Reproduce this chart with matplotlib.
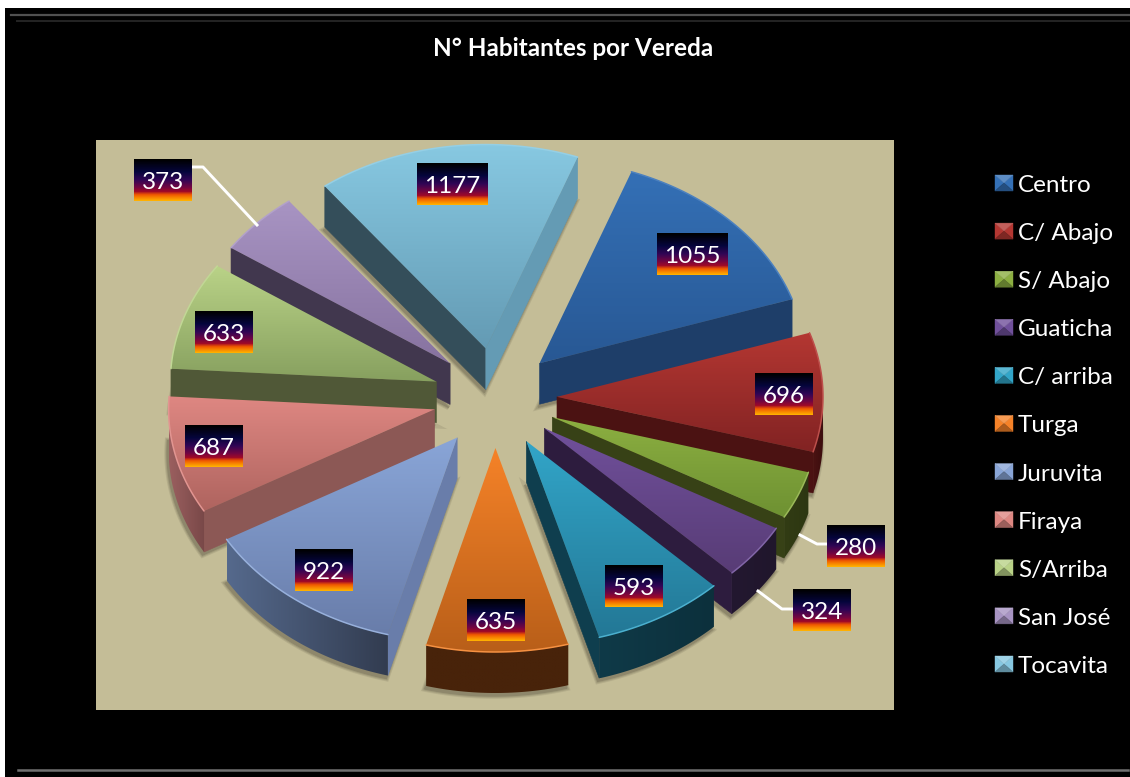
import numpy as np
import matplotlib
matplotlib.use('Agg')
import matplotlib.pyplot as plt
from matplotlib.colors import LinearSegmentedColormap
from matplotlib.patches import Polygon, Rectangle

plt.rcParams['font.family'] = ['Lato', 'DejaVu Sans']

# data
veredas = ['Centro', 'C/ Abajo', 'S/ Abajo', 'Guaticha', 'C/ arriba', 'Turga',
           'Juruvita', 'Firaya', 'S/Arriba', 'San José', 'Tocavita']
habitantes = [1055, 696, 280, 324, 593, 635, 922, 687, 633, 373, 1177]
titulo = 'N° Habitantes por Vereda'

# colours, one per slice
color_top = [(52, 112, 182), (180, 55, 50), (140, 175, 65), (112, 80, 155), (50, 165, 200), (245, 130, 40),
             (137, 165, 215), (222, 135, 130), (185, 210, 135), (168, 148, 195), (135, 200, 225)]
color_low = [(40, 88, 148), (130, 35, 35), (110, 145, 50), (88, 60, 118), (35, 120, 150), (185, 95, 25),
             (105, 125, 170), (175, 100, 95), (135, 160, 95), (135, 115, 160), (100, 155, 180)]
color_wall = [(30, 62, 105), (75, 18, 18), (55, 65, 22), (45, 28, 62), (15, 62, 78), (72, 35, 10),
              (85, 105, 140), (140, 88, 85), (80, 88, 55), (65, 55, 78), (52, 78, 90)]
outer_left = [(30, 62, 105), (75, 18, 18), (50, 60, 20), (35, 24, 48), (15, 58, 72), (72, 35, 10),
              (85, 105, 140), (155, 95, 95), (80, 88, 55), (65, 55, 78), (52, 78, 90)]
outer_right = [(30, 62, 105), (60, 14, 14), (45, 55, 18), (32, 22, 44), (12, 48, 60), (72, 35, 10),
               (50, 60, 80), (120, 72, 72), (80, 88, 55), (65, 55, 78), (52, 78, 90)]
color_fondo = (196, 189, 151)

# layout in pixels
cx, cy = 495, 398
rx, ry = 266, 204
ex, ey = 62, 50
depth = 41
start_angle = 20.2
label_xy = [(692, 254), (784, 394), (856, 546), (822, 610), (634, 586), (496, 620),
            (324, 570), (214, 446), (224, 332), (163, 180), (452, 184)]
leaders = {9: [(192, 167), (203, 167), (257, 225)],
           2: [(800, 535), (817, 544), (827, 544)],
           3: [(758, 591), (782, 609), (793, 609)]}


def rgb(c):
    return tuple(v / 255 for v in c)


def mix(a, b, t):
    return tuple(a[i] + (b[i] - a[i]) * t for i in range(3))


def fill_gradient(ax, pts, c0, c1, z, horizontal=False):
    pts = np.array(pts)
    n = 64
    ramp = LinearSegmentedColormap.from_list('r', [rgb(c0), rgb(c1)])(np.linspace(0, 1, n))
    if horizontal:
        img = ramp[np.newaxis, :, :]
    else:
        img = ramp[:, np.newaxis, :]
    im = ax.imshow(img, extent=(pts[:, 0].min(), pts[:, 0].max(), pts[:, 1].max(), pts[:, 1].min()),
                   aspect='auto', zorder=z, interpolation='bilinear')
    im.set_clip_path(Polygon(pts, transform=ax.transData))


fig = plt.figure(figsize=(11.3, 7.77), dpi=100, facecolor='white')
ax = fig.add_axes([0, 0, 1, 1])
ax.axis('off')

# black chart area and its bevel
ax.add_patch(Rectangle((5, 8), 1125, 769, fc='black', ec='none', zorder=0))
ax.plot([11, 1130], [14.5, 14.5], color=rgb((80, 80, 80)), lw=1.6, zorder=1)
ax.plot([17, 1130], [21, 21], color=rgb((36, 36, 36)), lw=1.4, zorder=1)
ax.plot([18, 1128], [770, 770], color=rgb((112, 112, 112)), lw=1.8, zorder=1)
ax.add_patch(Rectangle((96, 140), 798, 570, fc=rgb(color_fondo), ec='none', zorder=1))

ax.text(573.5, 48, titulo, color='white', fontsize=17.5, fontweight='bold', ha='center', va='center', zorder=50)

# slice angles
valores = np.array(habitantes, dtype=float)
sweep = valores / valores.sum() * 360
a_start = start_angle + np.concatenate(([0], np.cumsum(sweep)[:-1]))
a_end = a_start + sweep
a_mid = (a_start + a_end) / 2

# back slices first
order = np.argsort(-np.cos(np.radians(a_mid)))

# soft shadows under everything, only below the walls
for i in range(len(veredas)):
    tip = (cx + ex * np.sin(np.radians(a_mid[i])), cy - ey * np.cos(np.radians(a_mid[i])))
    th = np.radians(np.linspace(a_start[i], a_end[i], 60))
    rim = np.column_stack((tip[0] + rx * np.sin(th), tip[1] - ry * np.cos(th)))
    low = np.vstack(([tip], rim)) + [0, depth]
    for lw, t in [(4, 0.12), (2.5, 0.25), (1, 0.4)]:
        c = rgb(mix(color_fondo, (60, 55, 40), t))
        ax.add_patch(Polygon(low + [-1.5, 3], fc=c, ec=c, lw=lw, zorder=2))

z = 3
for i in order:
    tip = np.array((cx + ex * np.sin(np.radians(a_mid[i])), cy - ey * np.cos(np.radians(a_mid[i]))))
    th = np.linspace(a_start[i], a_end[i], 80)
    rim = np.column_stack((tip[0] + rx * np.sin(np.radians(th)), tip[1] - ry * np.cos(np.radians(th))))
    down = np.array([0, depth])

    # straight walls, only those that face the viewer
    for ang, p in ((a_start[i] - 90, rim[0]), (a_end[i] + 90, rim[-1])):
        if np.cos(np.radians(ang)) < 0:
            n = ang % 360
            col = color_low[i] if 90 < n < 130 else color_wall[i]
            ax.add_patch(Polygon([tip, p, p + down, tip + down], fc=rgb(col), ec=rgb(col), lw=0.4, zorder=z))
            z += 1

    # curved wall, only the part on the near side
    front = np.cos(np.radians(th)) <= 0
    if front.sum() > 1:
        r = rim[front]
        fill_gradient(ax, np.vstack((r, r[::-1] + down)), outer_left[i], outer_right[i], z, horizontal=True)
        z += 1

    # top face
    top = np.vstack(([tip], rim))
    fill_gradient(ax, top, color_top[i], color_low[i], z)
    z += 1
    ax.plot(rim[:, 0], rim[:, 1], color=rgb(mix(color_top[i], (255, 255, 255), 0.12)), lw=1.1, zorder=z,
            solid_capstyle='round')
    z += 1

# leader lines
for k in leaders:
    xs = [p[0] for p in leaders[k]]
    ys = [p[1] for p in leaders[k]]
    ax.plot(xs, ys, color='white', lw=2.1, zorder=z, solid_joinstyle='round')
z += 1

# data labels with the sunset gradient
sunset = LinearSegmentedColormap.from_list('sunset', [
    (0.0, (0, 0, 0)), (0.3, rgb((5, 5, 60))), (0.5, rgb((50, 5, 85))), (0.68, rgb((115, 5, 65))),
    (0.78, rgb((160, 10, 40))), (0.86, rgb((240, 90, 0))), (1.0, rgb((255, 175, 0)))])
ramp = sunset(np.linspace(0, 1, 42))[:, np.newaxis, :]
for i, v in enumerate(habitantes):
    txt = str(v)
    w = 71 if len(txt) == 4 else 58
    x, y = label_xy[i]
    ax.imshow(ramp, extent=(x - w / 2, x + w / 2, y + 21, y - 21), aspect='auto', zorder=z, interpolation='nearest')
    ax.text(x, y + 2.5, txt, color='white', fontsize=17.5, ha='center', va='center', zorder=z + 1)

# legend
for i, name in enumerate(veredas):
    y = 184 + i * 48.1
    x0, x1, y0, y1 = 995, 1013, y - 9, y + 7
    mx, my = (x0 + x1) / 2, (y0 + y1) / 2
    base = color_top[i]
    light = rgb(mix(base, (255, 255, 255), 0.2))
    dark = rgb(mix(base, (0, 0, 0), 0.3))
    ax.add_patch(Polygon([(x0, y0), (x0, y1), (mx, my)], fc=rgb(base), ec=rgb(base), lw=0.3, zorder=40))
    ax.add_patch(Polygon([(x1, y0), (x1, y1), (mx, my)], fc=rgb(base), ec=rgb(base), lw=0.3, zorder=40))
    ax.add_patch(Polygon([(x0, y0), (x1, y0), (mx, my)], fc=light, ec=light, lw=0.3, zorder=40))
    ax.add_patch(Polygon([(x0, y1), (x1, y1), (mx, my)], fc=dark, ec=dark, lw=0.3, zorder=40))
    ax.text(1018, y + 1.5, name, color='white', fontsize=17.5, ha='left', va='center', zorder=40)

ax.set_xlim(0, 1130)
ax.set_ylim(777, 0)
fig.savefig('out.png', dpi=100, facecolor='white')
